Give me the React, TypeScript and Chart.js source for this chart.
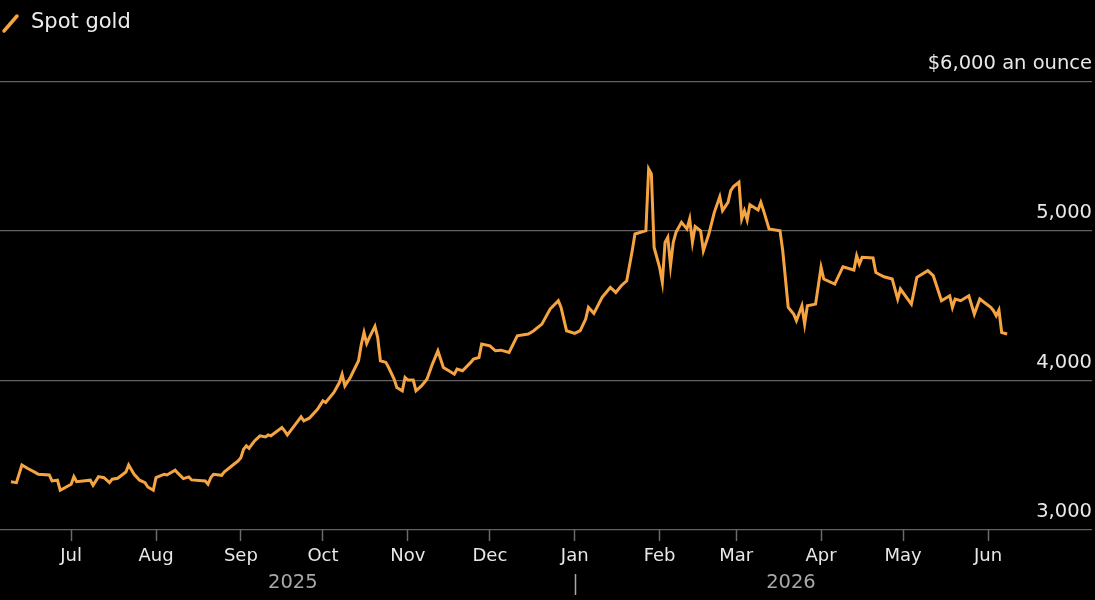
import React, { useEffect, useRef } from "react";
import { Chart, registerables } from "chart.js";

Chart.register(...registerables);

const dates: string[] = [
  "2025-06-09","2025-06-11","2025-06-13","2025-06-15","2025-06-18","2025-06-19","2025-06-23","2025-06-24","2025-06-26","2025-06-27",
  "2025-07-01","2025-07-02","2025-07-03","2025-07-08","2025-07-09","2025-07-11","2025-07-13","2025-07-15","2025-07-16","2025-07-18",
  "2025-07-21","2025-07-22","2025-07-24","2025-07-26","2025-07-28","2025-07-29","2025-07-31","2025-08-01","2025-08-04","2025-08-05",
  "2025-08-08","2025-08-09","2025-08-11","2025-08-13","2025-08-14","2025-08-19","2025-08-20","2025-08-21","2025-08-22","2025-08-25",
  "2025-08-26","2025-08-29","2025-08-31","2025-09-01","2025-09-02","2025-09-03","2025-09-04","2025-09-06","2025-09-08","2025-09-10",
  "2025-09-11","2025-09-12","2025-09-16","2025-09-17","2025-09-18","2025-09-21","2025-09-23","2025-09-24","2025-09-26","2025-09-29",
  "2025-10-01","2025-10-02","2025-10-05","2025-10-07","2025-10-08","2025-10-09","2025-10-11","2025-10-14","2025-10-15","2025-10-16",
  "2025-10-17","2025-10-18","2025-10-20","2025-10-21","2025-10-22","2025-10-24","2025-10-25","2025-10-27","2025-10-28","2025-10-30",
  "2025-10-31","2025-11-01","2025-11-03","2025-11-04","2025-11-06","2025-11-08","2025-11-10","2025-11-12","2025-11-14","2025-11-16",
  "2025-11-18","2025-11-19","2025-11-21","2025-11-24","2025-11-25","2025-11-27","2025-11-28","2025-12-01","2025-12-03","2025-12-05",
  "2025-12-08","2025-12-11","2025-12-15","2025-12-16","2025-12-17","2025-12-20","2025-12-23","2025-12-26","2025-12-27","2025-12-29",
  "2026-01-01","2026-01-03","2026-01-05","2026-01-06","2026-01-08","2026-01-11","2026-01-13","2026-01-14","2026-01-16","2026-01-18",
  "2026-01-20","2026-01-22","2026-01-23","2026-01-27","2026-01-28","2026-01-29","2026-01-30","2026-02-01","2026-02-02","2026-02-03",
  "2026-02-04","2026-02-05","2026-02-06","2026-02-07","2026-02-09","2026-02-11","2026-02-12","2026-02-13","2026-02-14","2026-02-16",
  "2026-02-17","2026-02-19","2026-02-21","2026-02-23","2026-02-24","2026-02-26","2026-02-27","2026-02-28","2026-03-02","2026-03-03",
  "2026-03-04","2026-03-05","2026-03-06","2026-03-09","2026-03-10","2026-03-11","2026-03-13","2026-03-17","2026-03-18","2026-03-20",
  "2026-03-22","2026-03-23","2026-03-25","2026-03-26","2026-03-27","2026-03-30","2026-04-01","2026-04-02","2026-04-06","2026-04-09",
  "2026-04-13","2026-04-14","2026-04-15","2026-04-16","2026-04-20","2026-04-21","2026-04-22","2026-04-24","2026-04-27","2026-04-29",
  "2026-04-30","2026-05-04","2026-05-06","2026-05-10","2026-05-12","2026-05-15","2026-05-18","2026-05-19","2026-05-20","2026-05-22",
  "2026-05-25","2026-05-27","2026-05-29","2026-06-02","2026-06-03","2026-06-04","2026-06-05","2026-06-06","2026-06-08",
];

const spotGold: number[] = [
  3323,3317,3435,3413,3384,3373,3368,3328,3333,3266,
  3306,3357,3323,3333,3299,3357,3350,3317,3340,3346,
  3388,3435,3373,3333,3317,3288,3266,3350,3373,3368,
  3400,3380,3344,3355,3335,3328,3306,3350,3373,3366,
  3390,3433,3462,3484,3540,3563,3547,3596,3630,3623,
  3636,3630,3685,3663,3636,3708,3757,3730,3748,3808,
  3864,3853,3920,3986,4042,3964,4020,4132,4240,4321,
  4248,4288,4362,4288,4132,4121,4087,4009,3953,3931,
  4020,4003,4003,3931,3964,4009,4110,4199,4087,4065,
  4042,4076,4065,4121,4143,4154,4244,4232,4199,4203,
  4188,4299,4311,4321,4333,4377,4478,4534,4489,4333,
  4315,4333,4411,4489,4449,4556,4600,4623,4589,4634,
  4667,4868,4980,5002,5415,5382,4890,4757,4656,4924,
  4958,4768,4924,4991,5058,5014,5081,4924,5030,5002,
  4868,4980,5125,5230,5136,5192,5270,5297,5326,5081,
  5136,5074,5176,5141,5192,5136,5014,5002,4868,4489,
  4444,4400,4500,4377,4500,4511,4757,4679,4645,4761,
  4739,4835,4779,4824,4820,4723,4712,4694,4679,4545,
  4612,4511,4690,4735,4701,4534,4567,4489,4545,4534,
  4567,4444,4545,4489,4467,4433,4471,4321,4311,
];

const monthTickDates: string[] = [
  "2025-07-01","2025-08-01","2025-09-01","2025-10-01","2025-11-01","2025-12-01",
  "2026-01-01","2026-02-01","2026-03-01","2026-04-01","2026-05-01","2026-06-01",
];
const monthTickLabels: string[] = ["Jul","Aug","Sep","Oct","Nov","Dec","Jan","Feb","Mar","Apr","May","Jun"];
const yearLabels: string[] = ["2025", "2026"];
const yearBoundary = "2026-01-01";
const yTicks: number[] = [3000, 4000, 5000, 6000];
const axisStart = "2025-06-05";
const axisEnd = "2026-07-09";

const FONT = "'DejaVu Sans', sans-serif";

function dayNum(s: string): number {
  const [y, m, d] = s.split("-").map(Number);
  return Date.UTC(y, m - 1, d) / 86400000;
}

const overlayPlugin = {
  id: "overlay",
  beforeDraw(chart: any) {
    const ctx = chart.ctx;
    ctx.save();
    ctx.fillStyle = "#000000";
    ctx.fillRect(0, 0, chart.width, chart.height);
    ctx.restore();
  },
  afterDraw(chart: any) {
    const ctx = chart.ctx;
    const xs = chart.scales.x;
    ctx.save();
    // legend
    ctx.strokeStyle = "#f6a441";
    ctx.lineWidth = 3.5;
    ctx.lineCap = "round";
    ctx.beginPath();
    ctx.moveTo(4, 31);
    ctx.lineTo(17, 16);
    ctx.stroke();
    ctx.fillStyle = "#ececec";
    ctx.font = `21px ${FONT}`;
    ctx.textAlign = "left";
    ctx.textBaseline = "middle";
    ctx.fillText(chart.data.datasets[0].label, 31, 23);

    // year labels
    const first = xs.getPixelForValue(dayNum(dates[0]));
    const last = xs.getPixelForValue(dayNum(dates[dates.length - 1]));
    const mid = xs.getPixelForValue(dayNum(yearBoundary));
    ctx.fillStyle = "#a8a8a8";
    ctx.font = `19.5px ${FONT}`;
    ctx.textAlign = "center";
    ctx.fillText(yearLabels[0], (first + mid) / 2, 583);
    ctx.fillText(yearLabels[1], (mid + last) / 2, 583);
    ctx.strokeStyle = "#a8a8a8";
    ctx.lineWidth = 1.5;
    ctx.lineCap = "butt";
    ctx.beginPath();
    ctx.moveTo(Math.round(mid) + 0.5, 574);
    ctx.lineTo(Math.round(mid) + 0.5, 595);
    ctx.stroke();
    ctx.restore();
  },
};

export default function App() {
  const ref = useRef<HTMLCanvasElement | null>(null);

  useEffect(() => {
    document.body.style.margin = "0";
    document.body.style.background = "#000";
    if (!ref.current) return;
    const points = dates.map((d, i) => ({ x: dayNum(d), y: spotGold[i] }));
    const tickVals = monthTickDates.map(dayNum);
    const chart = new Chart(ref.current, {
      type: "line",
      data: {
        datasets: [
          {
            label: "Spot gold",
            data: points,
            borderColor: "#f6a441",
            borderWidth: 3,
            pointRadius: 0,
            tension: 0,
            fill: false,
          },
        ],
      },
      options: {
        animation: false,
        responsive: false,
        events: [],
        layout: { padding: { top: 81.5, left: 0, right: 3, bottom: 27.4 } },
        plugins: { legend: { display: false }, tooltip: { enabled: false } },
        scales: {
          x: {
            type: "linear",
            min: dayNum(axisStart),
            max: dayNum(axisEnd),
            afterBuildTicks: (scale: any) => {
              scale.ticks = tickVals.map((v) => ({ value: v }));
            },
            grid: {
              drawOnChartArea: false,
              drawTicks: true,
              tickLength: 11,
              tickColor: "#6a6a6a",
              tickWidth: 1.5,
            },
            border: { display: false },
            ticks: {
              autoSkip: false,
              maxRotation: 0,
              padding: 5,
              color: "#e8e8e8",
              font: { family: FONT, size: 18 },
              callback: (_v: any, i: number) => monthTickLabels[i],
            },
          },
          y: {
            position: "right",
            min: 3000,
            max: 6000,
            afterBuildTicks: (scale: any) => {
              scale.ticks = yTicks.map((v) => ({ value: v }));
            },
            grid: { color: "#626262", lineWidth: 1.2, drawTicks: false },
            border: { display: false },
            ticks: {
              mirror: true,
              padding: 0,
              labelOffset: -18,
              color: "#e8e8e8",
              font: { family: FONT, size: 19.5 },
              callback: (v: any) =>
                v === 6000 ? "$6,000 an ounce" : Number(v).toLocaleString("en-US"),
            },
          },
        },
      },
      plugins: [overlayPlugin],
    });
    return () => chart.destroy();
  }, []);

  return (
    <div style={{ width: 1095, height: 600, background: "#000" }}>
      <canvas ref={ref} width={1095} height={600} style={{ display: "block" }} />
    </div>
  );
}
